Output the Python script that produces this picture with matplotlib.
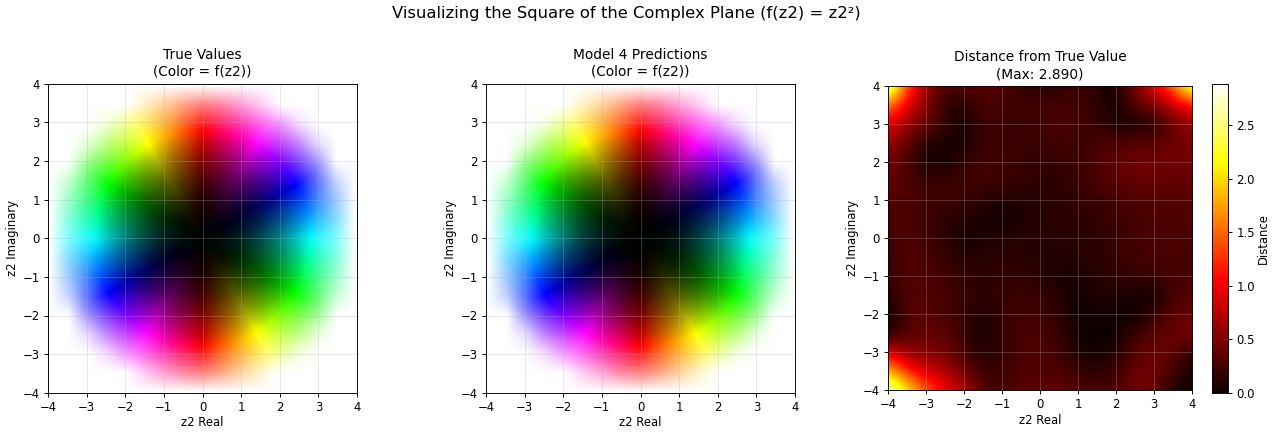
import colorsys
import numpy as np
import matplotlib
matplotlib.use('Agg')
import matplotlib.pyplot as plt

# Values on a 0.5 grid, rows from y=4 down to y=-4, columns x=-4 to 4
hue_deg = [
    [90, 82, 74, 64, 53, 41, 28, 14, 0, 346, 332, 319, 307, 296, 286, 278, 270],
    [98, 90, 81, 71, 59, 46, 32, 16, 0, 344, 328, 314, 301, 289, 279, 270, 262],
    [106, 99, 90, 80, 67, 53, 37, 19, 0, 341, 323, 307, 293, 280, 270, 261, 254],
    [116, 109, 100, 90, 77, 62, 44, 23, 0, 337, 316, 298, 283, 270, 260, 251, 244],
    [127, 121, 113, 103, 90, 74, 53, 28, 0, 332, 307, 286, 270, 257, 247, 239, 233],
    [139, 134, 127, 118, 106, 90, 67, 37, 0, 323, 293, 270, 254, 242, 233, 226, 221],
    [152, 148, 143, 136, 127, 113, 90, 53, 0, 307, 270, 247, 233, 224, 217, 212, 208],
    [166, 164, 161, 157, 152, 143, 127, 90, 0, 270, 233, 217, 208, 203, 199, 196, 194],
    [180, 180, 180, 180, 180, 180, 180, 180, 180, 180, 180, 180, 180, 180, 180, 180, 180],
    [194, 196, 199, 203, 208, 217, 233, 270, 0, 90, 127, 143, 152, 157, 161, 164, 166],
    [208, 212, 217, 224, 233, 247, 270, 307, 0, 53, 90, 113, 127, 136, 143, 148, 152],
    [221, 226, 233, 242, 254, 270, 293, 323, 0, 37, 67, 90, 106, 118, 127, 134, 139],
    [233, 239, 247, 257, 270, 286, 307, 332, 0, 28, 53, 74, 90, 103, 113, 121, 127],
    [244, 251, 260, 270, 283, 298, 316, 337, 0, 23, 44, 62, 77, 90, 100, 109, 116],
    [254, 261, 270, 280, 293, 307, 323, 341, 0, 19, 37, 53, 67, 80, 90, 99, 106],
    [262, 270, 279, 289, 301, 314, 328, 344, 0, 16, 32, 46, 59, 71, 81, 90, 98],
    [270, 278, 286, 296, 307, 319, 332, 346, 0, 14, 28, 41, 53, 64, 74, 82, 90],
]

true_light = [
    [100, 100, 100, 100, 100, 100, 100, 100, 100, 100, 100, 100, 100, 100, 100, 100, 100],
    [100, 100, 100, 100, 100, 89, 81, 76, 75, 76, 81, 89, 100, 100, 100, 100, 100],
    [100, 100, 100, 93, 79, 69, 62, 58, 56, 58, 62, 69, 79, 93, 100, 100, 100],
    [100, 100, 93, 76, 63, 53, 45, 41, 39, 41, 45, 53, 63, 76, 93, 100, 100],
    [100, 100, 79, 63, 50, 39, 31, 27, 25, 27, 31, 39, 50, 63, 79, 100, 100],
    [100, 89, 69, 53, 39, 28, 20, 16, 14, 16, 20, 28, 39, 53, 69, 89, 100],
    [100, 81, 62, 45, 31, 20, 13, 8, 6, 8, 13, 20, 31, 45, 62, 81, 100],
    [100, 76, 58, 41, 27, 16, 8, 3, 2, 3, 8, 16, 27, 41, 58, 76, 100],
    [100, 75, 56, 39, 25, 14, 6, 2, 0, 2, 6, 14, 25, 39, 56, 75, 100],
    [100, 76, 58, 41, 27, 16, 8, 3, 2, 3, 8, 16, 27, 41, 58, 76, 100],
    [100, 81, 62, 45, 31, 20, 13, 8, 6, 8, 13, 20, 31, 45, 62, 81, 100],
    [100, 89, 69, 53, 39, 28, 20, 16, 14, 16, 20, 28, 39, 53, 69, 89, 100],
    [100, 100, 79, 63, 50, 39, 31, 27, 25, 27, 31, 39, 50, 63, 79, 100, 100],
    [100, 100, 93, 76, 63, 53, 45, 41, 39, 41, 45, 53, 63, 76, 93, 100, 100],
    [100, 100, 100, 93, 79, 69, 62, 58, 56, 58, 62, 69, 79, 93, 100, 100, 100],
    [100, 100, 100, 100, 100, 89, 81, 76, 75, 76, 81, 89, 100, 100, 100, 100, 100],
    [100, 100, 100, 100, 100, 100, 100, 100, 100, 100, 100, 100, 100, 100, 100, 100, 100],
]

pred_light = [
    [100, 100, 100, 100, 100, 100, 100, 100, 100, 100, 100, 100, 100, 100, 100, 100, 100],
    [100, 100, 100, 100, 100, 89, 81, 76, 75, 76, 82, 90, 100, 100, 100, 100, 100],
    [100, 100, 100, 94, 79, 68, 61, 58, 56, 58, 63, 70, 80, 93, 100, 100, 100],
    [100, 100, 93, 75, 61, 51, 44, 40, 38, 41, 45, 53, 63, 75, 93, 100, 100],
    [100, 100, 78, 61, 47, 37, 30, 26, 24, 26, 31, 39, 49, 61, 78, 100, 100],
    [100, 89, 68, 50, 35, 25, 18, 15, 13, 15, 20, 27, 37, 51, 68, 88, 100],
    [100, 81, 60, 43, 29, 17, 11, 7, 5, 7, 12, 18, 28, 43, 61, 81, 100],
    [100, 76, 57, 40, 25, 14, 6, 3, 1, 2, 6, 14, 25, 39, 56, 76, 100],
    [100, 75, 55, 38, 24, 12, 5, 1, 0, 1, 4, 12, 23, 37, 55, 74, 100],
    [100, 76, 57, 39, 25, 14, 6, 2, 1, 3, 6, 14, 25, 40, 57, 76, 100],
    [100, 81, 61, 43, 28, 18, 12, 7, 5, 7, 11, 17, 29, 43, 60, 81, 100],
    [100, 88, 68, 51, 37, 27, 20, 15, 13, 15, 18, 25, 35, 50, 68, 89, 100],
    [100, 100, 78, 61, 49, 39, 31, 26, 24, 26, 30, 37, 47, 61, 78, 100, 100],
    [100, 100, 93, 75, 63, 53, 45, 41, 38, 40, 44, 51, 61, 75, 93, 100, 100],
    [100, 100, 100, 93, 80, 70, 63, 58, 56, 58, 61, 68, 79, 94, 100, 100, 100],
    [100, 100, 100, 100, 100, 90, 82, 76, 75, 76, 81, 89, 100, 100, 100, 100, 100],
    [100, 100, 100, 100, 100, 100, 100, 100, 100, 100, 100, 100, 100, 100, 100, 100, 100],
]

distance = [
    [2.89, 1.40, 0.60, 0.30, 0.35, 0.35, 0.30, 0.20, 0.10, 0.10, 0.25, 0.10, 0.03, 0.50, 0.90, 1.60, 2.60],
    [1.60, 0.95, 0.55, 0.12, 0.10, 0.30, 0.25, 0.25, 0.25, 0.28, 0.25, 0.15, 0.03, 0.35, 0.50, 0.75, 1.10],
    [1.00, 0.60, 0.40, 0.22, 0.03, 0.25, 0.20, 0.20, 0.22, 0.30, 0.25, 0.20, 0.08, 0.01, 0.12, 0.40, 0.60],
    [0.60, 0.40, 0.10, 0.07, 0.03, 0.22, 0.22, 0.20, 0.22, 0.25, 0.22, 0.25, 0.30, 0.35, 0.35, 0.42, 0.50],
    [0.45, 0.30, 0.02, 0.04, 0.16, 0.25, 0.25, 0.20, 0.17, 0.20, 0.22, 0.28, 0.38, 0.44, 0.44, 0.44, 0.42],
    [0.38, 0.30, 0.22, 0.22, 0.25, 0.25, 0.22, 0.20, 0.15, 0.15, 0.20, 0.28, 0.35, 0.40, 0.40, 0.38, 0.38],
    [0.32, 0.30, 0.25, 0.22, 0.20, 0.15, 0.08, 0.12, 0.12, 0.15, 0.18, 0.20, 0.25, 0.30, 0.32, 0.32, 0.32],
    [0.30, 0.28, 0.22, 0.15, 0.12, 0.06, 0.02, 0.10, 0.12, 0.14, 0.15, 0.18, 0.22, 0.25, 0.28, 0.28, 0.30],
    [0.26, 0.28, 0.25, 0.15, 0.03, 0.10, 0.12, 0.13, 0.13, 0.13, 0.13, 0.15, 0.20, 0.25, 0.28, 0.28, 0.28],
    [0.20, 0.30, 0.28, 0.20, 0.12, 0.12, 0.15, 0.13, 0.10, 0.12, 0.12, 0.15, 0.20, 0.25, 0.28, 0.28, 0.26],
    [0.20, 0.30, 0.30, 0.25, 0.18, 0.14, 0.18, 0.18, 0.14, 0.08, 0.08, 0.12, 0.16, 0.20, 0.22, 0.26, 0.28],
    [0.08, 0.35, 0.30, 0.25, 0.20, 0.14, 0.20, 0.22, 0.18, 0.12, 0.03, 0.10, 0.10, 0.06, 0.03, 0.25, 0.32],
    [0.01, 0.30, 0.35, 0.28, 0.20, 0.06, 0.20, 0.26, 0.24, 0.16, 0.02, 0.06, 0.04, 0.01, 0.18, 0.35, 0.40],
    [0.05, 0.30, 0.42, 0.32, 0.22, 0.03, 0.20, 0.28, 0.28, 0.20, 0.03, 0.02, 0.02, 0.20, 0.32, 0.42, 0.48],
    [0.90, 0.55, 0.50, 0.45, 0.25, 0.08, 0.20, 0.26, 0.30, 0.25, 0.06, 0.01, 0.10, 0.32, 0.45, 0.38, 0.15],
    [1.90, 1.20, 0.85, 0.70, 0.45, 0.20, 0.22, 0.30, 0.30, 0.30, 0.20, 0.15, 0.22, 0.42, 0.45, 0.25, 0.04],
    [2.85, 2.10, 1.45, 1.05, 0.70, 0.30, 0.25, 0.35, 0.35, 0.40, 0.30, 0.25, 0.30, 0.45, 0.42, 0.08, 0.02],
]

max_distance = 2.890
ticks = [-4, -3, -2, -1, 0, 1, 2, 3, 4]


def upsample(grid, n=100):
    # bilinear along both axes, only to get from the read grid to image cells
    old = np.linspace(0, 1, grid.shape[0])
    new = np.linspace(0, 1, n)
    cols = np.array([np.interp(new, old, col) for col in grid.T]).T
    return np.array([np.interp(new, old, row) for row in cols])


def to_rgb(hue, light):
    angle = np.radians(np.array(hue, dtype=float))
    cos_h = upsample(np.cos(angle))
    sin_h = upsample(np.sin(angle))
    hue_fine = (np.arctan2(sin_h, cos_h) / (2 * np.pi)) % 1
    light_fine = upsample(np.array(light, dtype=float) / 100)
    rgb = np.zeros(light_fine.shape + (3,))
    for i in range(light_fine.shape[0]):
        for j in range(light_fine.shape[1]):
            rgb[i, j] = colorsys.hls_to_rgb(hue_fine[i, j], light_fine[i, j], 1.0)
    return rgb


def style_axis(ax, title):
    ax.set_xlim(-4, 4)
    ax.set_ylim(-4, 4)
    ax.set_xticks(ticks)
    ax.set_yticks(ticks)
    ax.set_xlabel('z2 Real', labelpad=2)
    ax.set_ylabel('z2 Imaginary', labelpad=3)
    ax.set_title(title, fontsize=11.8, pad=7, linespacing=1.25)
    ax.grid(True, alpha=0.3)


def box(x0, y0, x1, y1):
    # pixel box in the 1274x434 picture to figure coordinates
    return [x0 / 1274, 1 - y1 / 434, (x1 - x0) / 1274, (y1 - y0) / 434]


def main():
    fig = plt.figure(figsize=(1274 / 84, 434 / 84), dpi=84)
    fig.suptitle('Visualizing the Square of the Complex Plane (f(z2) = z2²)', fontsize=14,
                 x=0.4914, y=0.97, va='center')

    extent = (-4, 4, -4, 4)

    ax1 = fig.add_axes(box(48, 83.5, 357, 393))
    ax1.imshow(to_rgb(hue_deg, true_light), extent=extent, interpolation='bilinear')
    style_axis(ax1, 'True Values\n(Color = f(z2))')

    ax2 = fig.add_axes(box(486, 83.5, 795, 393))
    ax2.imshow(to_rgb(hue_deg, pred_light), extent=extent, interpolation='bilinear')
    style_axis(ax2, 'Model 4 Predictions\n(Color = f(z2))')

    ax3 = fig.add_axes(box(888, 86, 1192, 390.5))
    im = ax3.imshow(np.array(distance), extent=(-4.25, 4.25, -4.25, 4.25), cmap='hot',
                    vmin=0, vmax=max_distance, interpolation='bicubic')
    style_axis(ax3, f'Distance from True Value\n(Max: {max_distance:.3f})')

    cax = fig.add_axes(box(1212, 83.5, 1228, 393))
    cbar = fig.colorbar(im, cax=cax)
    cbar.set_label('Distance', labelpad=2)

    fig.savefig('out.png', dpi=84)


if __name__ == '__main__':
    main()
